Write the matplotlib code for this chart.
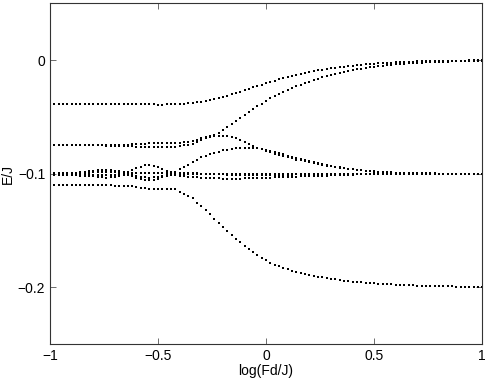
import numpy as np
import matplotlib.pyplot as plt

plt.rcParams['font.family'] = ['Liberation Sans', 'DejaVu Sans']

# sample grid along log(Fd/J): 101 points from -1 to 1
x = np.linspace(-1, 1, 101)

# energy levels E/J, one value per sample
e_a = [-0.0390, -0.0390, -0.0390, -0.0390, -0.0390, -0.0390, -0.0390, -0.0390, -0.0390, -0.0390,
       -0.0390, -0.0390, -0.0390, -0.0390, -0.0390, -0.0390, -0.0390, -0.0390, -0.0390, -0.0390,
       -0.0390, -0.0390, -0.0390, -0.0391, -0.0391, -0.0392, -0.0392, -0.0391, -0.0390, -0.0389,
       -0.0388, -0.0386, -0.0382, -0.0378, -0.0373, -0.0368, -0.0361, -0.0354, -0.0346, -0.0336,
       -0.0325, -0.0313, -0.0301, -0.0289, -0.0277, -0.0265, -0.0253, -0.0241, -0.0229, -0.0217,
       -0.0205, -0.0193, -0.0181, -0.0170, -0.0159, -0.0148, -0.0139, -0.0130, -0.0121, -0.0113,
       -0.0105, -0.0098, -0.0091, -0.0084, -0.0078, -0.0072, -0.0067, -0.0062, -0.0057, -0.0052,
       -0.0048, -0.0044, -0.0041, -0.0037, -0.0034, -0.0031, -0.0029, -0.0026, -0.0024, -0.0022,
       -0.0020, -0.0018, -0.0017, -0.0015, -0.0014, -0.0012, -0.0011, -0.0010, -0.0009, -0.0008,
       -0.0007, -0.0007, -0.0006, -0.0005, -0.0005, -0.0004, -0.0004, -0.0003, -0.0003, -0.0002,
       -0.0002]
e_b = [-0.0750, -0.0750, -0.0750, -0.0750, -0.0750, -0.0750, -0.0750, -0.0750, -0.0750, -0.0750,
       -0.0750, -0.0750, -0.0750, -0.0749, -0.0749, -0.0748, -0.0747, -0.0746, -0.0744, -0.0742,
       -0.0740, -0.0738, -0.0735, -0.0733, -0.0731, -0.0730, -0.0730, -0.0730, -0.0730, -0.0730,
       -0.0728, -0.0724, -0.0718, -0.0711, -0.0702, -0.0690, -0.0680, -0.0670, -0.0658, -0.0640,
       -0.0615, -0.0592, -0.0567, -0.0540, -0.0510, -0.0485, -0.0460, -0.0433, -0.0408, -0.0383,
       -0.0360, -0.0338, -0.0317, -0.0297, -0.0278, -0.0260, -0.0244, -0.0229, -0.0215, -0.0202,
       -0.0190, -0.0177, -0.0165, -0.0153, -0.0142, -0.0132, -0.0122, -0.0113, -0.0104, -0.0096,
       -0.0088, -0.0081, -0.0075, -0.0069, -0.0063, -0.0058, -0.0054, -0.0049, -0.0045, -0.0041,
       -0.0038, -0.0035, -0.0032, -0.0029, -0.0026, -0.0024, -0.0022, -0.0020, -0.0018, -0.0016,
       -0.0015, -0.0014, -0.0013, -0.0012, -0.0011, -0.0009, -0.0008, -0.0007, -0.0006, -0.0006,
       -0.0005]
e_c = [-0.0750, -0.0750, -0.0750, -0.0750, -0.0750, -0.0750, -0.0751, -0.0751, -0.0751, -0.0752,
       -0.0752, -0.0752, -0.0752, -0.0753, -0.0753, -0.0754, -0.0755, -0.0756, -0.0758, -0.0760,
       -0.0762, -0.0764, -0.0766, -0.0767, -0.0768, -0.0768, -0.0767, -0.0766, -0.0765, -0.0762,
       -0.0755, -0.0750, -0.0744, -0.0735, -0.0721, -0.0705, -0.0690, -0.0678, -0.0670, -0.0666,
       -0.0665, -0.0670, -0.0678, -0.0690, -0.0704, -0.0725, -0.0741, -0.0757, -0.0772, -0.0786,
       -0.0800, -0.0812, -0.0824, -0.0836, -0.0847, -0.0858, -0.0867, -0.0876, -0.0884, -0.0892,
       -0.0900, -0.0908, -0.0915, -0.0922, -0.0929, -0.0936, -0.0942, -0.0948, -0.0953, -0.0959,
       -0.0964, -0.0968, -0.0972, -0.0976, -0.0979, -0.0982, -0.0985, -0.0987, -0.0989, -0.0991,
       -0.0993, -0.0994, -0.0995, -0.0996, -0.0997, -0.0998, -0.0998, -0.0999, -0.0999, -0.0999,
       -0.1000, -0.1000, -0.1000, -0.1000, -0.1000, -0.1000, -0.1000, -0.1000, -0.1000, -0.1000,
       -0.1000]
e_d = [-0.0995, -0.0995, -0.0995, -0.0995, -0.0995, -0.0994, -0.0993, -0.0990, -0.0986, -0.0981,
       -0.0976, -0.0971, -0.0967, -0.0966, -0.0969, -0.0975, -0.0981, -0.0984, -0.0982, -0.0972,
       -0.0955, -0.0938, -0.0927, -0.0925, -0.0932, -0.0945, -0.0962, -0.0978, -0.0990, -0.0982,
       -0.0962, -0.0942, -0.0921, -0.0900, -0.0878, -0.0858, -0.0843, -0.0829, -0.0817, -0.0806,
       -0.0796, -0.0788, -0.0782, -0.0777, -0.0773, -0.0771, -0.0771, -0.0773, -0.0777, -0.0782,
       -0.0789, -0.0798, -0.0808, -0.0819, -0.0830, -0.0842, -0.0853, -0.0864, -0.0874, -0.0884,
       -0.0893, -0.0902, -0.0910, -0.0918, -0.0926, -0.0933, -0.0940, -0.0946, -0.0952, -0.0957,
       -0.0962, -0.0967, -0.0971, -0.0975, -0.0978, -0.0981, -0.0984, -0.0986, -0.0988, -0.0990,
       -0.0992, -0.0993, -0.0994, -0.0995, -0.0996, -0.0997, -0.0998, -0.0998, -0.0999, -0.0999,
       -0.1000, -0.1000, -0.1000, -0.1000, -0.1000, -0.1000, -0.1000, -0.1000, -0.1000, -0.1000,
       -0.1000]
e_e = [-0.1000, -0.1000, -0.1000, -0.0999, -0.0999, -0.0998, -0.0997, -0.0996, -0.0994, -0.0992,
       -0.0990, -0.0988, -0.0987, -0.0986, -0.0987, -0.0989, -0.0991, -0.0993, -0.0995, -0.0996,
       -0.0997, -0.0998, -0.0999, -0.0999, -0.0999, -0.0999, -0.0998, -0.0997, -0.0996, -0.0995,
       -0.0995, -0.0996, -0.0997, -0.0998, -0.0999, -0.1000, -0.1000, -0.1000, -0.1000, -0.1000,
       -0.1000, -0.1000, -0.1000, -0.1000, -0.1000, -0.1000, -0.1000, -0.1000, -0.1000, -0.1000,
       -0.1000, -0.1000, -0.1000, -0.1000, -0.1000, -0.1000, -0.1000, -0.1000, -0.1000, -0.1000,
       -0.1000, -0.1000, -0.1000, -0.1000, -0.1000, -0.1000, -0.1000, -0.1000, -0.1000, -0.1000,
       -0.1000, -0.1000, -0.1000, -0.1000, -0.1000, -0.1000, -0.1000, -0.1000, -0.1000, -0.1000,
       -0.1000, -0.1000, -0.1000, -0.1000, -0.1000, -0.1000, -0.1000, -0.1000, -0.1000, -0.1000,
       -0.1000, -0.1000, -0.1000, -0.1000, -0.1000, -0.1000, -0.1000, -0.1000, -0.1000, -0.1000,
       -0.1000]
e_f = [-0.1005, -0.1005, -0.1005, -0.1006, -0.1006, -0.1007, -0.1008, -0.1009, -0.1010, -0.1011,
       -0.1012, -0.1013, -0.1014, -0.1015, -0.1014, -0.1011, -0.1008, -0.1006, -0.1007, -0.1012,
       -0.1019, -0.1027, -0.1033, -0.1035, -0.1034, -0.1028, -0.1020, -0.1013, -0.1010, -0.1012,
       -0.1018, -0.1023, -0.1027, -0.1031, -0.1034, -0.1037, -0.1039, -0.1041, -0.1042, -0.1043,
       -0.1044, -0.1044, -0.1044, -0.1044, -0.1044, -0.1043, -0.1042, -0.1041, -0.1040, -0.1039,
       -0.1037, -0.1036, -0.1034, -0.1033, -0.1031, -0.1030, -0.1028, -0.1027, -0.1025, -0.1024,
       -0.1022, -0.1021, -0.1020, -0.1018, -0.1017, -0.1015, -0.1014, -0.1013, -0.1012, -0.1010,
       -0.1009, -0.1008, -0.1007, -0.1006, -0.1006, -0.1005, -0.1004, -0.1004, -0.1003, -0.1003,
       -0.1003, -0.1002, -0.1002, -0.1002, -0.1001, -0.1001, -0.1001, -0.1001, -0.1000, -0.1000,
       -0.1000, -0.1000, -0.1000, -0.1000, -0.1000, -0.1000, -0.1000, -0.1000, -0.1000, -0.1000,
       -0.1000]
e_g = [-0.1010, -0.1010, -0.1011, -0.1012, -0.1013, -0.1014, -0.1015, -0.1017, -0.1019, -0.1022,
       -0.1025, -0.1029, -0.1032, -0.1035, -0.1034, -0.1028, -0.1020, -0.1013, -0.1012, -0.1020,
       -0.1035, -0.1050, -0.1058, -0.1060, -0.1056, -0.1045, -0.1032, -0.1020, -0.1012, -0.1008,
       -0.1005, -0.1004, -0.1003, -0.1003, -0.1002, -0.1002, -0.1003, -0.1004, -0.1005, -0.1006,
       -0.1008, -0.1009, -0.1010, -0.1011, -0.1012, -0.1012, -0.1012, -0.1012, -0.1012, -0.1012,
       -0.1012, -0.1012, -0.1011, -0.1011, -0.1010, -0.1010, -0.1009, -0.1008, -0.1007, -0.1007,
       -0.1006, -0.1005, -0.1005, -0.1004, -0.1004, -0.1004, -0.1003, -0.1003, -0.1002, -0.1002,
       -0.1002, -0.1002, -0.1001, -0.1001, -0.1001, -0.1001, -0.1001, -0.1000, -0.1000, -0.1000,
       -0.1000, -0.1000, -0.1000, -0.1000, -0.1000, -0.1000, -0.1000, -0.1000, -0.1000, -0.1000,
       -0.1000, -0.1000, -0.1000, -0.1000, -0.1000, -0.1000, -0.1000, -0.1000, -0.1000, -0.1000,
       -0.1000]
e_h = [-0.1100, -0.1100, -0.1100, -0.1100, -0.1100, -0.1100, -0.1101, -0.1101, -0.1102, -0.1102,
       -0.1103, -0.1103, -0.1104, -0.1104, -0.1105, -0.1106, -0.1107, -0.1108, -0.1110, -0.1113,
       -0.1120, -0.1125, -0.1130, -0.1133, -0.1135, -0.1135, -0.1135, -0.1135, -0.1135, -0.1140,
       -0.1160, -0.1177, -0.1196, -0.1218, -0.1255, -0.1290, -0.1325, -0.1360, -0.1398, -0.1434,
       -0.1470, -0.1506, -0.1540, -0.1573, -0.1607, -0.1638, -0.1666, -0.1693, -0.1718, -0.1742,
       -0.1765, -0.1785, -0.1803, -0.1819, -0.1833, -0.1845, -0.1857, -0.1868, -0.1878, -0.1887,
       -0.1895, -0.1902, -0.1909, -0.1915, -0.1922, -0.1928, -0.1933, -0.1938, -0.1943, -0.1948,
       -0.1952, -0.1956, -0.1959, -0.1962, -0.1965, -0.1968, -0.1970, -0.1973, -0.1975, -0.1977,
       -0.1980, -0.1981, -0.1983, -0.1984, -0.1986, -0.1987, -0.1988, -0.1989, -0.1990, -0.1991,
       -0.1993, -0.1994, -0.1994, -0.1995, -0.1996, -0.1997, -0.1998, -0.1998, -0.1999, -0.1999,
       -0.2000]

levels = [e_a, e_b, e_c, e_d, e_e, e_f, e_g, e_h]

fig = plt.figure(figsize=(4.91, 3.79), dpi=100)
ax = fig.add_axes([0.102, 0.093, 0.880, 0.898])

for e in levels:
    ax.plot(x, e, linestyle='none', marker='s', markersize=1.7,
            markeredgewidth=0, color='black')

ax.set_xlim(-1, 1)
ax.set_ylim(-0.25, 0.05)
ax.set_xticks([-1, -0.5, 0, 0.5, 1])
ax.set_xticklabels(['\u22121', '\u22120.5', '0', '0.5', '1'])
ax.set_yticks([-0.2, -0.1, 0])
ax.set_yticklabels(['\u22120.2', '\u22120.1', '0'])
ax.tick_params(direction='in', top=True, right=True, length=4, width=0.6,
               labelsize=10, color='#555555')
for s in ax.spines.values():
    s.set_linewidth(0.8)
    s.set_color('#333333')

ax.set_xlabel('log(Fd/J)', fontsize=10, labelpad=1)
ax.set_ylabel('E/J', fontsize=10, labelpad=2)

fig.savefig('out.png', dpi=100)
